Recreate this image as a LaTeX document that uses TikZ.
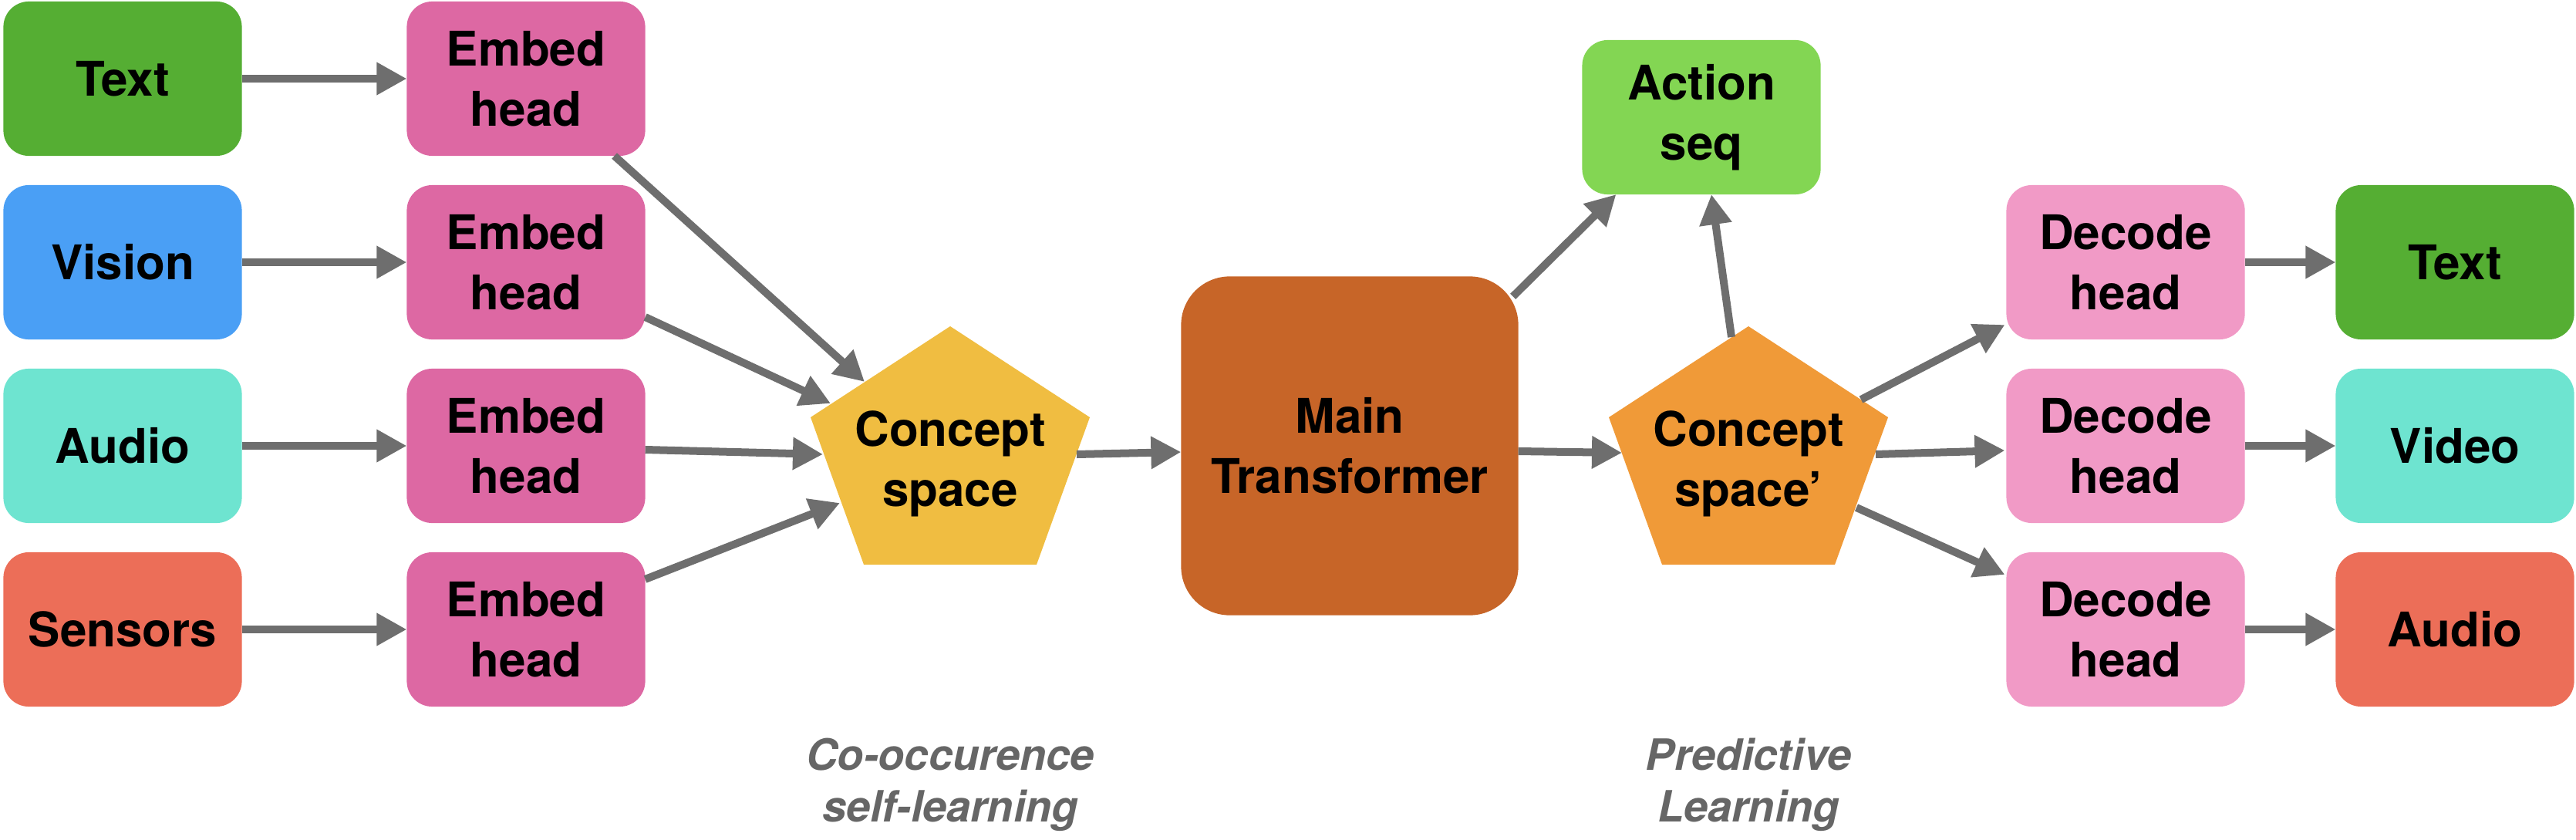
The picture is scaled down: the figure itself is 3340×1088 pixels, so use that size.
\documentclass[tikz,border=0pt]{standalone}
\usepackage{fontspec}
\setmainfont{TeX Gyre Heros}
\usetikzlibrary{arrows.meta,calc}
\definecolor{cText}{HTML}{55AE33}
\definecolor{cVision}{HTML}{4A9FF5}
\definecolor{cAudio}{HTML}{6EE4D0}
\definecolor{cSensor}{HTML}{EC6E58}
\definecolor{cEmbed}{HTML}{DD68A3}
\definecolor{cDecode}{HTML}{F19AC6}
\definecolor{cAction}{HTML}{83D653}
\definecolor{cMain}{HTML}{C76528}
\definecolor{cCS}{HTML}{F0BD41}
\definecolor{cCSb}{HTML}{F09A38}
\definecolor{cArrow}{HTML}{6E6E6E}
\definecolor{cLabel}{HTML}{666666}
\tikzset{
  box/.style={rectangle, rounded corners=0.33cm, minimum width=3.09cm, minimum height=2.00cm,
    inner sep=0pt, outer sep=0pt, align=center, text=black,
    font=\bfseries\fontsize{17.6}{22.2}\selectfont},
  bigbox/.style={box, rounded corners=0.63cm, minimum width=4.37cm, minimum height=4.39cm},
  ptext/.style={inner sep=0pt, outer sep=0pt, align=center, text=black,
    font=\bfseries\fontsize{17.6}{22.2}\selectfont},
  note/.style={inner sep=0pt, align=center, text=cLabel,
    font=\bfseries\itshape\fontsize{15.9}{19}\selectfont},
  arr/.style={draw=cArrow, line width=0.1cm, -{Triangle[length=0.39cm,width=0.40cm]}}
}
\begin{document}
\begin{tikzpicture}[x=0.01cm,y=-0.01cm]
\useasboundingbox (0,0) rectangle (3340,1088);
% input modalities
\node[box, fill=cText]   (t1) at (159,102) {Text};
\node[box, fill=cVision] (t2) at (159,340) {Vision};
\node[box, fill=cAudio]  (t3) at (159,578) {Audio};
\node[box, fill=cSensor] (t4) at (159,816) {Sensors};
% embed heads
\node[box, fill=cEmbed] (e1) at (682,102) {Embed\\head};
\node[box, fill=cEmbed] (e2) at (682,340) {Embed\\head};
\node[box, fill=cEmbed] (e3) at (682,578) {Embed\\head};
\node[box, fill=cEmbed] (e4) at (682,816) {Embed\\head};
% concept space pentagon
\fill[cCS] (1232,423) -- (1413,541) -- (1344,732) -- (1120,732) -- (1051,541) -- cycle;
\node[ptext] (cs) at (1232,601) {Concept\\space};
\coordinate (csin1) at (1121,495);
\coordinate (csin2) at (1077,523);
\coordinate (csin3) at (1067,589);
\coordinate (csin4) at (1089,652);
\coordinate (csout) at (1396,589);
% main transformer
\node[bigbox, fill=cMain] (mt) at (1750,578) {Main\\Transformer};
% concept space prime
\fill[cCSb] (2267,423) -- (2448,541) -- (2379,732) -- (2155,732) -- (2086,541) -- cycle;
\node[ptext] (cs2) at (2267,601) {Concept\\space’};
\coordinate (cs2in)  at (2103,587);
\coordinate (cs2top) at (2245,437);
\coordinate (cs2o1)  at (2413,518);
\coordinate (cs2o2)  at (2432,589);
\coordinate (cs2o3)  at (2407,658);
% action seq
\node[box, fill=cAction] (act) at (2206,152) {Action\\seq};
% decode heads
\node[box, fill=cDecode] (d1) at (2756,340) {Decode\\head};
\node[box, fill=cDecode] (d2) at (2756,578) {Decode\\head};
\node[box, fill=cDecode] (d3) at (2756,816) {Decode\\head};
% outputs
\node[box, fill=cText]   (o1) at (3183,340) {Text};
\node[box, fill=cAudio]  (o2) at (3183,578) {Video};
\node[box, fill=cSensor] (o3) at (3183,816) {Audio};
% labels
\node[note] (l1) at (1232,1017) {Co-occurence\\self-learning};
\node[note] (l2) at (2267,1017) {Predictive\\Learning};
% connectors
\draw[arr] (t1) -- (e1);
\draw[arr] (t2) -- (e2);
\draw[arr] (t3) -- (e3);
\draw[arr] (t4) -- (e4);
\draw[arr] ($(e1.south east)+(-40,0)$) -- (csin1);
\draw[arr] ($(e2.south east)+(0,-29)$) -- (csin2);
\draw[arr] ($(e3.east)+(0,5)$) -- (csin3);
\draw[arr] ($(e4.north east)+(0,35)$) -- (csin4);
\draw[arr] (csout) -- ($(mt.west)+(0,8)$);
\draw[arr] ($(mt.north east)+(-7,26)$) -- ($(act.south west)+(44,0)$);
\draw[arr] ($(mt.east)+(0,7)$) -- (cs2in);
\draw[arr] (cs2top) -- ($(act.south)+(13,0)$);
\draw[arr] (cs2o1) -- ($(d1.south west)+(-2,-19)$);
\draw[arr] (cs2o2) -- ($(d2.west)+(-2,6)$);
\draw[arr] (cs2o3) -- ($(d3.north west)+(-2,29)$);
\draw[arr] (d1) -- (o1);
\draw[arr] (d2) -- (o2);
\draw[arr] (d3) -- (o3);
\end{tikzpicture}
\end{document}
